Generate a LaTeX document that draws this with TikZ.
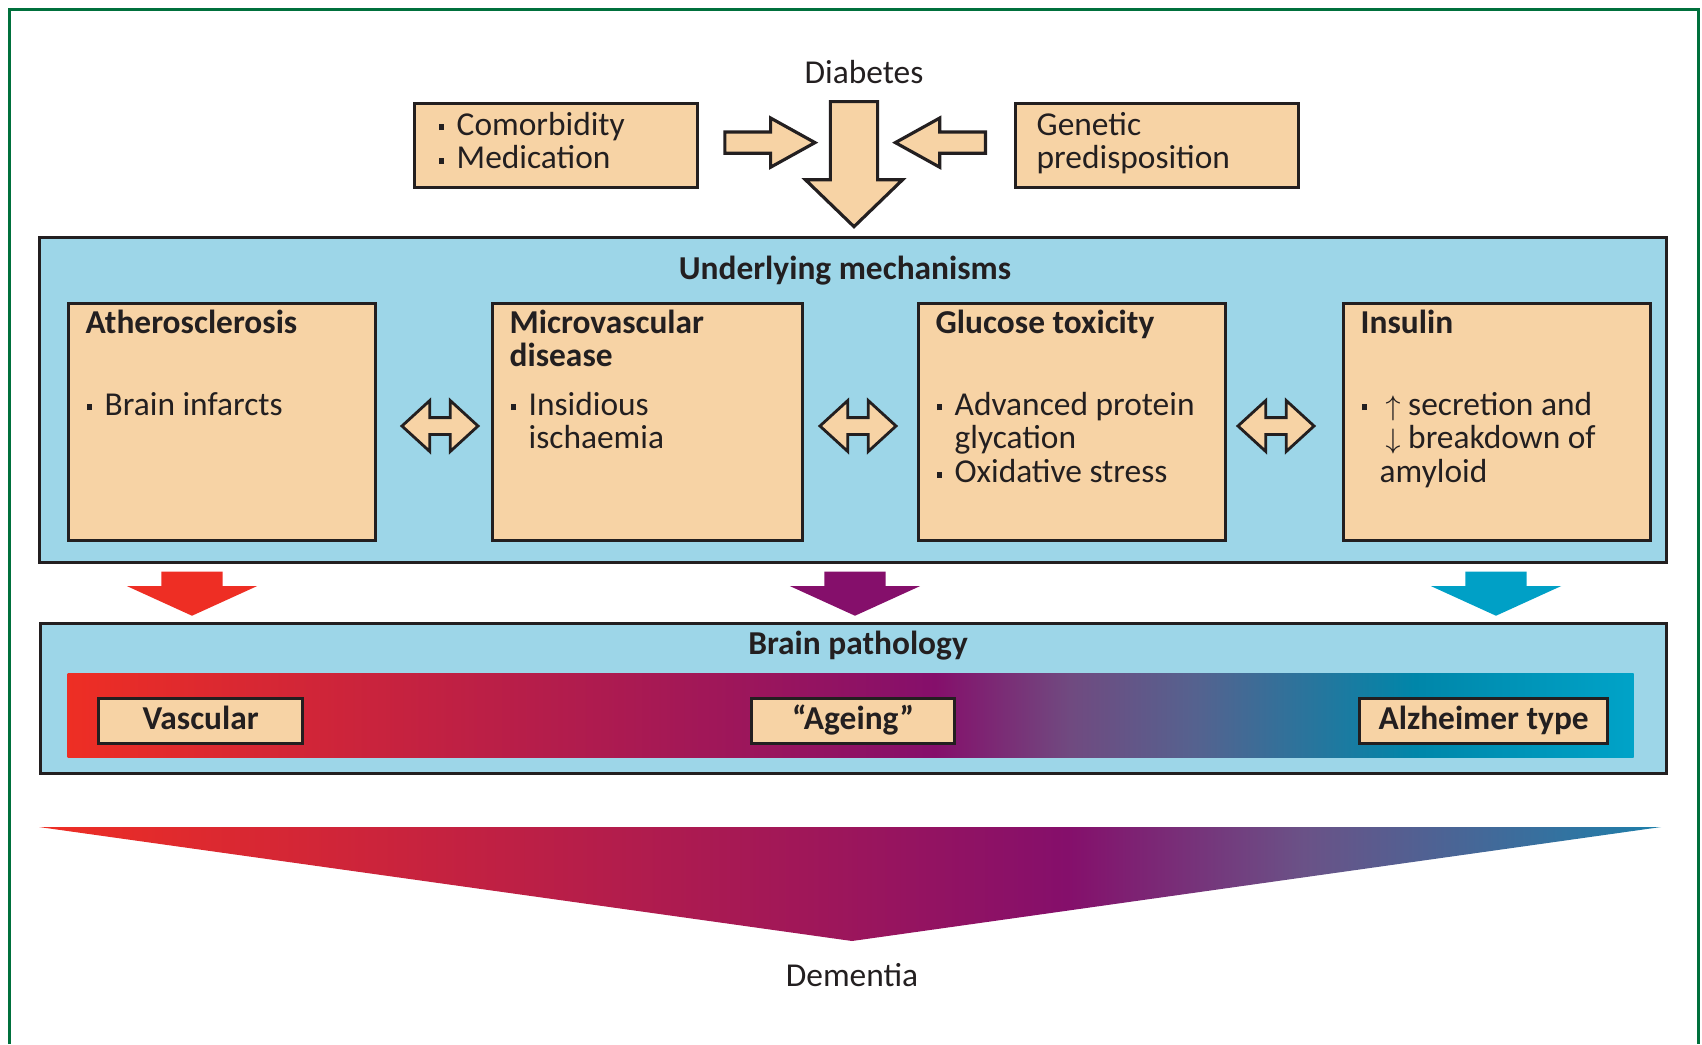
\documentclass[tikz,border=0pt]{standalone}
\usepackage{fontspec}
\setmainfont{Carlito}
\usetikzlibrary{shapes.arrows, positioning, calc}

\definecolor{peach}{HTML}{F7D3A5}
\definecolor{paleblue}{HTML}{9DD6E8}
\definecolor{framegreen}{HTML}{00703C}
\definecolor{ink}{HTML}{231F20}
\definecolor{vasred}{HTML}{EE2E24}
\definecolor{agepurple}{HTML}{850F6B}
\definecolor{alzblue}{HTML}{00A0C6}

% colour ramps (25bp..75bp is the width of the filled shape)
\pgfdeclarehorizontalshading{pathobar}{100bp}{
  color(0bp)=(vasred); color(25bp)=(vasred);
  color(52.7bp)=(agepurple); color(57bp)=(rgb,255:red,112;green,74;blue,128);
  color(61bp)=(rgb,255:red,85;green,98;blue,143); color(68bp)=(rgb,255:red,0;green,134;blue,169);
  color(75bp)=(rgb,255:red,0;green,163;blue,200); color(100bp)=(rgb,255:red,0;green,163;blue,200)}
\pgfdeclarehorizontalshading{dementiaramp}{100bp}{
  color(0bp)=(vasred); color(25bp)=(vasred);
  color(56.7bp)=(agepurple); color(64bp)=(rgb,255:red,106;green,82;blue,135);
  color(75bp)=(rgb,255:red,29;green,127;blue,170); color(100bp)=(rgb,255:red,29;green,127;blue,170)}

\newcommand{\figfont}{\fontsize{9.5}{9.6}\selectfont}
\newcommand{\bul}{\makebox[0.18cm][l]{\rule[1.4pt]{1.6pt}{1.6pt}}}
\newcommand{\bulind}{\hspace*{0.18cm}}
\newcommand{\boxlines}[1]{\parbox[t]{2.8cm}{#1}}
\newcommand{\updown}[1]{\hspace*{0.06cm}{\fontsize{8.5}{8.5}\selectfont$#1$}}

\tikzset{
	every node/.style={text=ink, font=\figfont},
	mechbox/.style={draw=ink, line width=0.9pt, fill=peach, anchor=north west, minimum width=3.07cm, minimum height=2.37cm, inner sep=0pt}, % the four mechanism boxes
	topbox/.style={draw=ink, line width=0.9pt, fill=peach, anchor=north west, minimum width=2.83cm, minimum height=0.84cm, inner sep=0pt},
	panel/.style={draw=ink, line width=0.8pt, fill=paleblue, anchor=north west, inner sep=0pt}, % the two blue bands
	boxtitle/.style={anchor=base west, inner sep=0pt, font=\figfont\bfseries},
	boxbody/.style={anchor=base west, inner sep=0pt},
	heading/.style={anchor=base, inner sep=0pt, font=\figfont\bfseries},
	pathbox/.style={draw=ink, line width=0.9pt, fill=peach, anchor=north west, minimum height=0.45cm, inner sep=0pt, font=\figfont\bfseries, text height=6.5pt, text depth=1.5pt},
	fatarrow/.style={single arrow, draw=ink, line width=0.9pt, fill=peach, anchor=tail}, % inner sep = half the shaft
	sidearrow/.style={fatarrow, inner sep=0.09cm, minimum height=0.9cm, minimum width=0.46cm, single arrow head extend=0.14cm, single arrow tip angle=58},
	twoway/.style={double arrow, draw=ink, line width=0.8pt, fill=peach, inner sep=0.07cm, minimum height=0.76cm, minimum width=0.48cm, double arrow head extend=0.17cm, double arrow tip angle=85},
	pathoarrow/.style={single arrow, inner xsep=0.3cm, inner ysep=0pt, anchor=tail, shape border rotate=270, minimum height=0.44cm, minimum width=1.29cm, single arrow head extend=0.345cm, single arrow tip angle=131},
}

\begin{document}
\begin{tikzpicture}[x=0.01cm, y=-0.01cm] % one unit = one pixel, y running down
	\useasboundingbox (0,0) rectangle (1702,1044);
	\draw[framegreen, line width=0.85pt] (9.5,1044) -- (9.5,9) -- (1698,9) -- (1698,1044);

	% top row
	\node[anchor=base] (dia) at (864,83) {Diabetes};
	\node[topbox] (como) at (413,102) {};
	\node[boxbody] (comoT) at ([shift={(25,33)}]como.north west) {\boxlines{\bul Comorbidity\\\bul Medication}};
	\node[topbox] (gene) at (1014,102) {};
	\node[boxbody] (geneT) at ([shift={(22,33)}]gene.north west) {\boxlines{Genetic\\predisposition}};
	\node[sidearrow] (comoArr) at ([shift={(24,-3)}]como.east) {};
	\node[sidearrow, shape border rotate=180] (geneArr) at ([shift={(-27,-3)}]gene.west) {};
	\node[fatarrow, shape border rotate=270, inner sep=0.22cm, minimum height=1.25cm, minimum width=0.94cm, single arrow head extend=0.25cm, single arrow tip angle=92] (diaArr) at (854,100) {};

	% underlying mechanisms
	\node[panel, minimum width=16.26cm, minimum height=3.25cm] (mech) at (38,236) {};
	\node[heading] (mechT) at (845,279) {Underlying mechanisms};
	\node[mechbox] (ath) at (67,302) {};
	\node[mechbox, minimum width=3.10cm] (mic) at (491,302) {};
	\node[mechbox] (glu) at (917,302) {};
	\node[mechbox] (ins) at (1342,302) {};
	\node[boxtitle] (athT) at ([shift={(18,31)}]ath.north west) {Atherosclerosis};
	\node[boxtitle] (micT) at ([shift={(18,31)}]mic.north west) {\boxlines{Microvascular\\disease}};
	\node[boxtitle] (gluT) at ([shift={(18,31)}]glu.north west) {Glucose toxicity};
	\node[boxtitle] (insT) at ([shift={(18,31)}]ins.north west) {Insulin};
	\node[boxbody] (athB) at ([shift={(19,113)}]ath.north west) {\boxlines{\bul Brain infarcts}};
	\node[boxbody] (micB) at ([shift={(19,113)}]mic.north west) {\boxlines{\bul Insidious\\\bulind ischaemia}};
	\node[boxbody] (gluB) at ([shift={(19,113)}]glu.north west) {\boxlines{\bul Advanced protein\\\bulind glycation\\\bul Oxidative stress}};
	\node[boxbody] (insB) at ([shift={(19,113)}]ins.north west) {\boxlines{\bul\updown{\uparrow} secretion and\\\bulind\updown{\downarrow} breakdown of\\\bulind amyloid}};
	\node[twoway] (am) at (440,426) {};
	\node[twoway] (mg) at (858,426) {};
	\node[twoway] (gi) at (1276,426) {};

	% arrows into brain pathology
	\node[pathoarrow, fill=vasred] (vasArr) at (192,571) {};
	\node[pathoarrow, fill=agepurple] (ageArr) at (855,571) {};
	\node[pathoarrow, fill=alzblue] (alzArr) at (1496,571) {};

	% brain pathology
	\node[panel, minimum width=16.25cm, minimum height=1.50cm] (brain) at (39,622) {};
	\node[heading] (brainT) at (858,654) {Brain pathology};
	\node[anchor=north west, inner sep=0pt, minimum width=15.65cm, minimum height=0.84cm, shade, shading=pathobar] (bar) at (67,673) {};
	\node[pathbox, minimum width=2.04cm] (vas) at (97,697) {Vascular};
	\node[pathbox, minimum width=2.03cm] (age) at (750,697) {``Ageing''};
	\node[pathbox, minimum width=2.48cm] (alz) at (1358,697) {Alzheimer type};

	% dementia
	\shade[shading=dementiaramp] (39,827) -- (1661,827) -- (852,941) -- cycle;
	\node[anchor=base] (dem) at (852,986) {Dementia};
\end{tikzpicture}
\end{document}
